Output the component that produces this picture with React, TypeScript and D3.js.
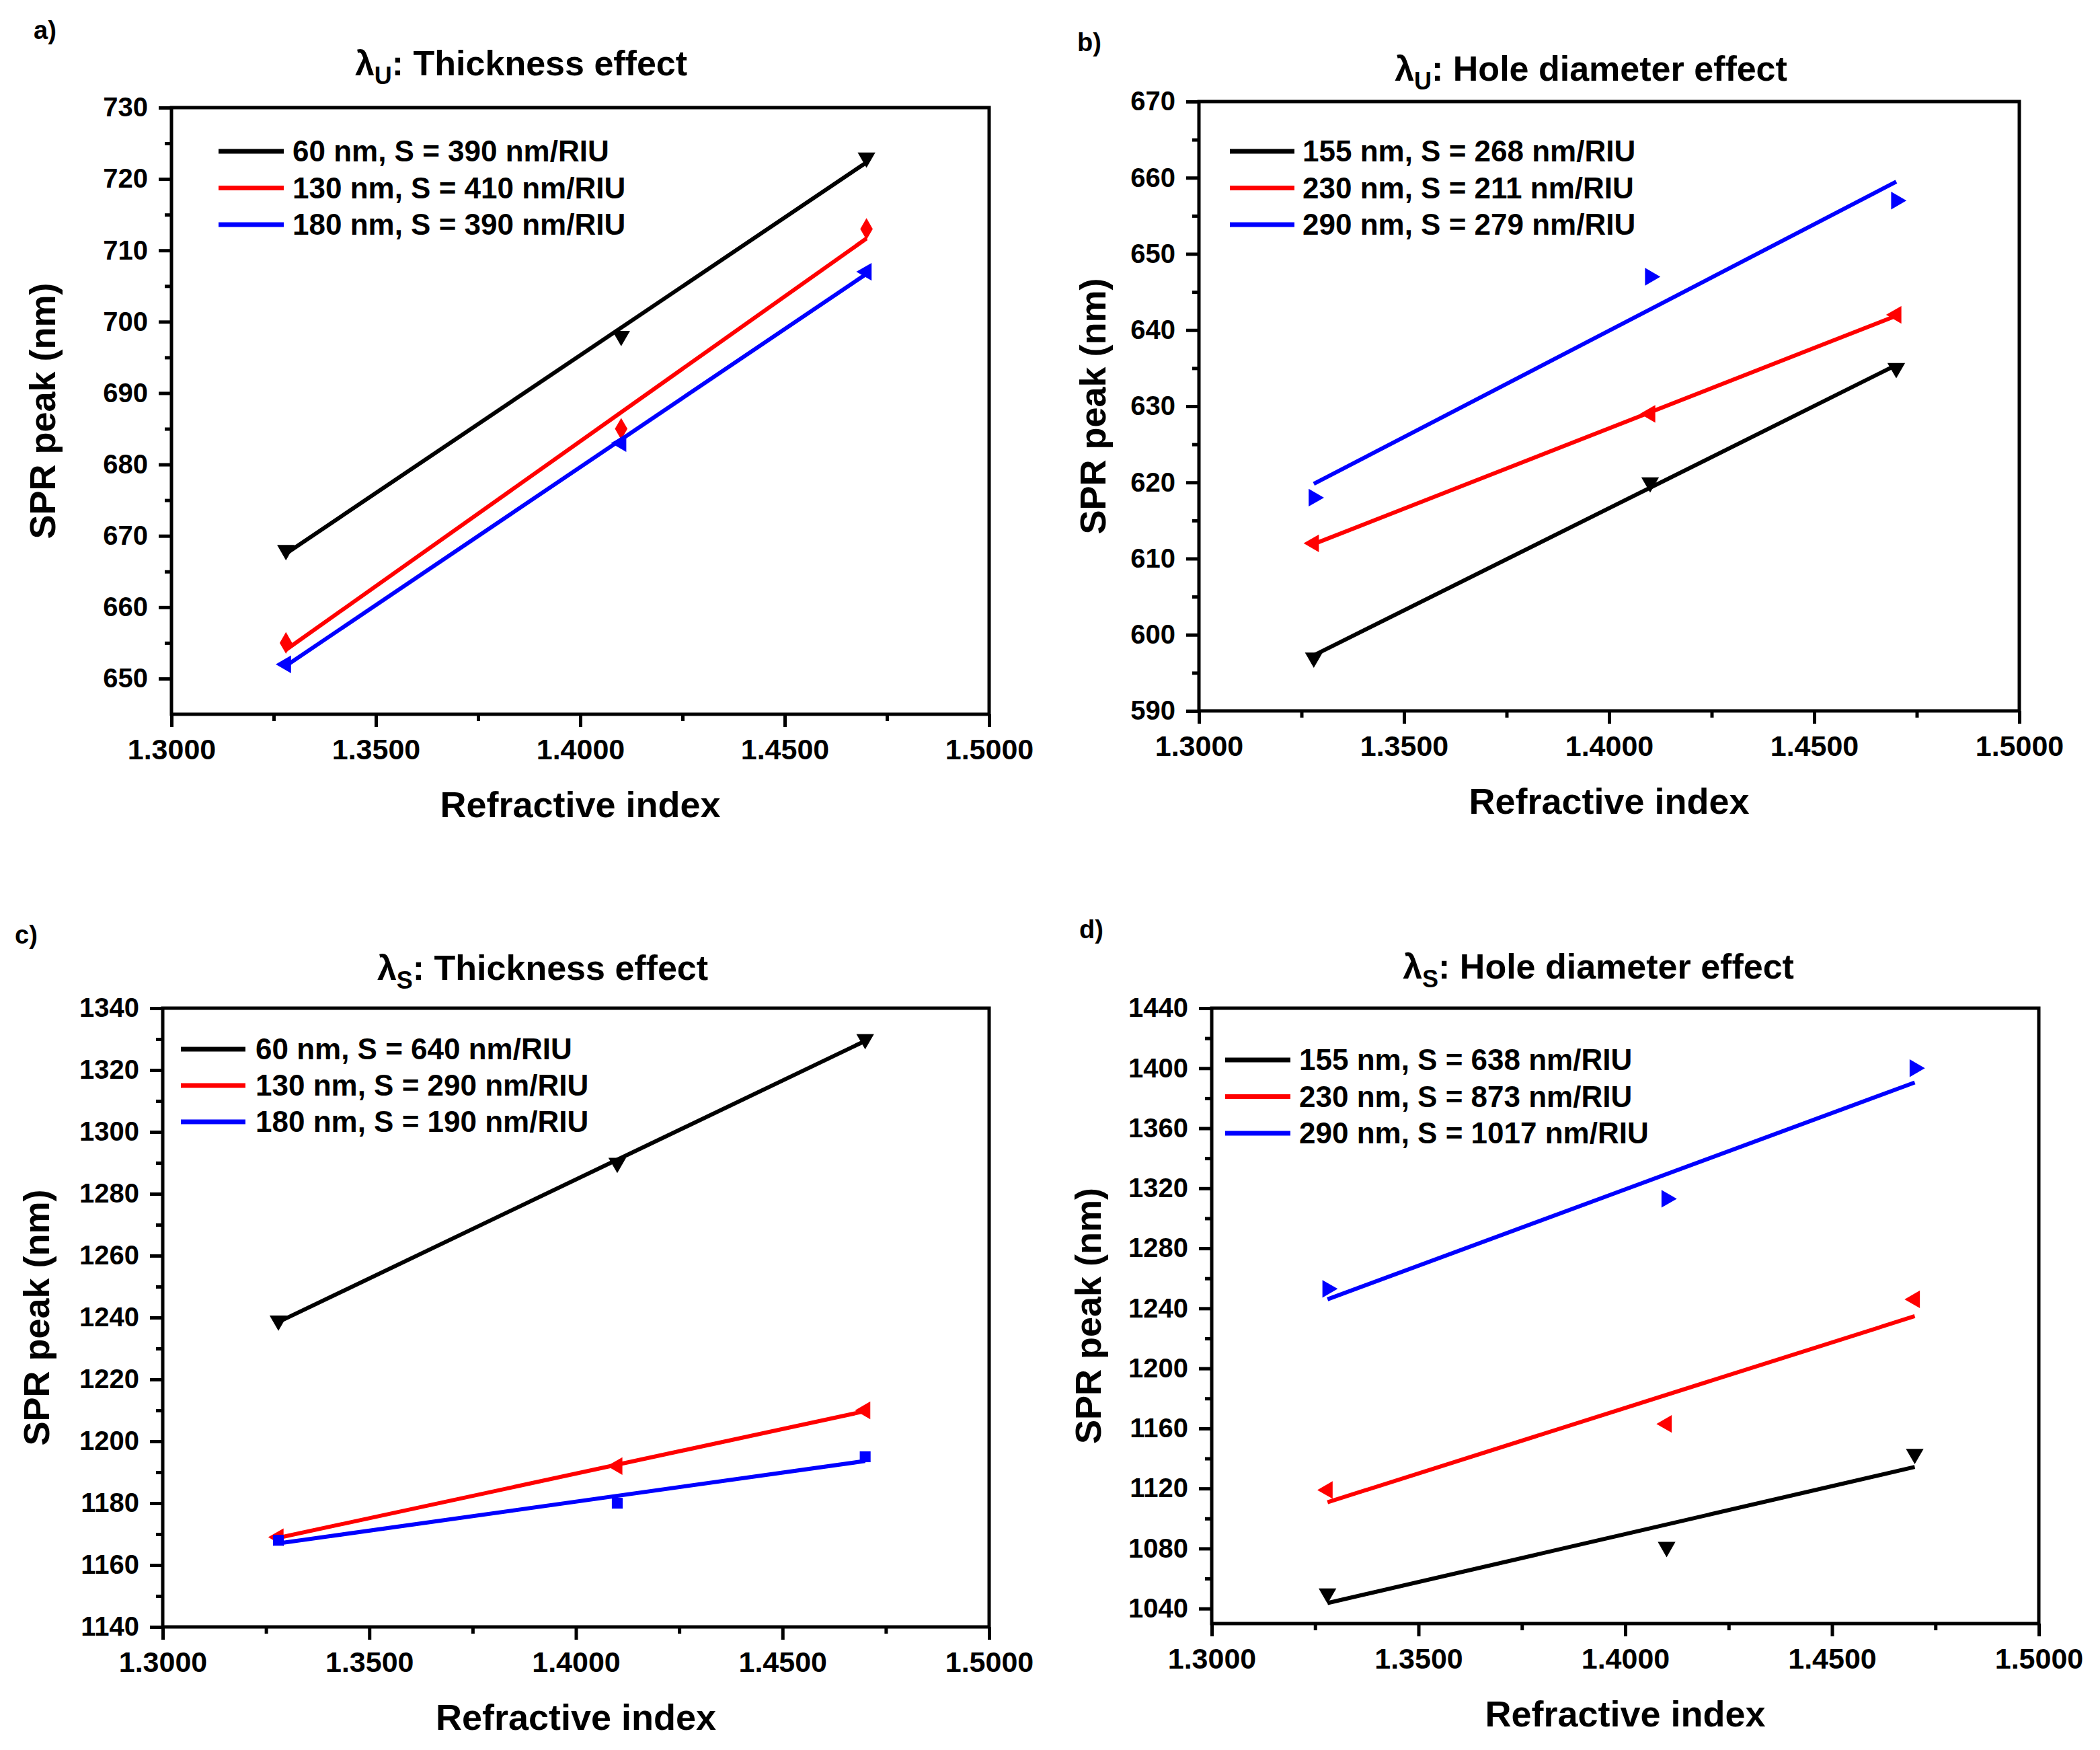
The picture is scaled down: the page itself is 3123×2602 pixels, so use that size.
import React, { useEffect, useRef } from "react";
import * as d3 from "d3";

// refractive index of the three media (x values, same in every panel)
const refractiveIndex = [1.328, 1.41, 1.47];
const xTickValues = [1.3, 1.35, 1.4, 1.45, 1.5];
const xMinorValues = [1.325, 1.375, 1.425, 1.475];

// a) lambda_U, thickness effect
const uThick60 = [668, 698, 723];
const uThick130 = [655, 685, 713];
const uThick180 = [652, 683, 707];
const legendUThick = ["60 nm, S = 390 nm/RIU", "130 nm, S = 410 nm/RIU", "180 nm, S = 390 nm/RIU"];
const yTicksA = [650, 660, 670, 680, 690, 700, 710, 720, 730];

// b) lambda_U, hole diameter effect
const uHole155 = [597, 620, 635];
const uHole230 = [612, 629, 642];
const uHole290 = [618, 647, 657];
const legendUHole = ["155 nm, S = 268 nm/RIU", "230 nm, S = 211 nm/RIU", "290 nm, S = 279 nm/RIU"];
const yTicksB = [590, 600, 610, 620, 630, 640, 650, 660, 670];

// c) lambda_S, thickness effect
const sThick60 = [1239, 1290, 1330];
const sThick130 = [1169, 1192, 1210];
const sThick180 = [1168, 1180, 1195];
const legendSThick = ["60 nm, S = 640 nm/RIU", "130 nm, S = 290 nm/RIU", "180 nm, S = 190 nm/RIU"];
const yTicksC = [1140, 1160, 1180, 1200, 1220, 1240, 1260, 1280, 1300, 1320, 1340];

// d) lambda_S, hole diameter effect
const sHole155 = [1050, 1081, 1143];
const sHole230 = [1119, 1163, 1246];
const sHole290 = [1253, 1313, 1400];
const legendSHole = ["155 nm, S = 638 nm/RIU", "230 nm, S = 873 nm/RIU", "290 nm, S = 1017 nm/RIU"];
const yTicksD = [1040, 1080, 1120, 1160, 1200, 1240, 1280, 1320, 1360, 1400, 1440];

const W = 3123;
const H = 2602;
const FONT = "'Liberation Sans', Arial, Helvetica, sans-serif";
const colors = ["#000000", "#ff0000", "#0000ff"];

const panels = [
    {
        letter: "a)", letterPos: [50, 58], sub: "U", title: ": Thickness effect", titlePos: [775, 112],
        box: { left: 255, right: 1471, top: 160, bottom: 1062 }, yDomain: [645, 730], yTicks: yTicksA,
        yTitleX: 63, legend: { x1: 325, x2: 422, tx: 435, y: 225, dy: 54.5 },
        series: [uThick60, uThick130, uThick180], labels: legendUThick, symbols: ["down", "diamond", "left"],
    },
    {
        letter: "b)", letterPos: [1602, 76], sub: "U", title: ": Hole diameter effect", titlePos: [2366, 120],
        box: { left: 1783, right: 3003, top: 151, bottom: 1057 }, yDomain: [590, 670], yTicks: yTicksB,
        yTitleX: 1625, legend: { x1: 1829, x2: 1925, tx: 1937, y: 225, dy: 54.5 },
        series: [uHole155, uHole230, uHole290], labels: legendUHole, symbols: ["down", "left", "right"],
    },
    {
        letter: "c)", letterPos: [22, 1403], sub: "S", title: ": Thickness effect", titlePos: [807, 1457],
        box: { left: 242, right: 1471, top: 1499, bottom: 2419 }, yDomain: [1140, 1340], yTicks: yTicksC,
        yTitleX: 54, legend: { x1: 269, x2: 365, tx: 380, y: 1560, dy: 54 },
        series: [sThick60, sThick130, sThick180], labels: legendSThick, symbols: ["down", "left", "square"],
    },
    {
        letter: "d)", letterPos: [1605, 1395], sub: "S", title: ": Hole diameter effect", titlePos: [2377, 1455],
        box: { left: 1802, right: 3032, top: 1499, bottom: 2414 }, yDomain: [1030, 1440], yTicks: yTicksD,
        yTitleX: 1618, legend: { x1: 1822, x2: 1919, tx: 1932, y: 1576, dy: 54.5 },
        series: [sHole155, sHole230, sHole290], labels: legendSHole, symbols: ["down", "left", "right"],
    },
];

const symbolPath = (kind: string) => {
    if (kind === "diamond") return { d: d3.symbol().type(d3.symbolDiamond).size(300)(), rot: 0 };
    if (kind === "square") return { d: d3.symbol().type(d3.symbolSquare).size(260)(), rot: 0 };
    const rot = kind === "down" ? 180 : kind === "left" ? -90 : kind === "right" ? 90 : 0;
    return { d: d3.symbol().type(d3.symbolTriangle).size(300)(), rot };
};

const drawPanel = (svg: any, p: any) => {
    const { left, right, top, bottom } = p.box;
    const x = d3.scaleLinear().domain([1.3, 1.5]).range([left, right]);
    const y = d3.scaleLinear().domain(p.yDomain).range([bottom, top]);
    const g = svg.append("g");

    // y minor ticks: halfway between majors
    const step = p.yTicks[1] - p.yTicks[0];
    const yMinor = p.yTicks.map((t: number) => t + step / 2).concat([p.yTicks[0] - step / 2])
        .filter((t: number) => t > p.yDomain[0] && t < p.yDomain[1]);

    const styleAxis = (sel: any) => {
        sel.select(".domain").remove();
        sel.selectAll("line").attr("stroke", "#000").attr("stroke-width", 5);
        sel.selectAll("text").attr("fill", "#000").attr("font-family", FONT).attr("font-weight", "bold").attr("font-size", 40);
    };

    g.append("g").attr("transform", `translate(0,${bottom})`)
        .call(d3.axisBottom(x).tickValues(xMinorValues).tickSize(10).tickFormat(() => ""))
        .call(styleAxis);
    g.append("g").attr("transform", `translate(0,${bottom})`)
        .call(d3.axisBottom(x).tickValues(xTickValues).tickSize(19).tickPadding(17).tickFormat(d3.format(".4f")))
        .call(styleAxis)
        .selectAll("text").attr("font-size", 43);
    g.append("g").attr("transform", `translate(${left},0)`)
        .call(d3.axisLeft(y).tickValues(yMinor).tickSize(10).tickFormat(() => ""))
        .call(styleAxis);
    g.append("g").attr("transform", `translate(${left},0)`)
        .call(d3.axisLeft(y).tickValues(p.yTicks).tickSize(19).tickPadding(16).tickFormat(d3.format("d")))
        .call(styleAxis);

    // frame
    g.append("rect").attr("x", left).attr("y", top).attr("width", right - left).attr("height", bottom - top)
        .attr("fill", "none").attr("stroke", "#000").attr("stroke-width", 5);

    // data: markers + least squares fit
    p.series.forEach((vals: number[], i: number) => {
        const sym = symbolPath(p.symbols[i]);
        vals.forEach((v, j) => {
            g.append("path").attr("d", sym.d)
                .attr("transform", `translate(${x(refractiveIndex[j])},${y(v)}) rotate(${sym.rot})`)
                .attr("fill", colors[i]);
        });
        const mx = d3.mean(refractiveIndex) as number;
        const my = d3.mean(vals) as number;
        const slope = d3.sum(refractiveIndex.map((xi, k) => (xi - mx) * (vals[k] - my))) /
            d3.sum(refractiveIndex.map((xi) => (xi - mx) ** 2));
        const ends = [refractiveIndex[0], refractiveIndex[refractiveIndex.length - 1]];
        g.append("path")
            .attr("d", d3.line()(ends.map((xi) => [x(xi), y(my + slope * (xi - mx))] as [number, number])))
            .attr("stroke", colors[i]).attr("stroke-width", 6).attr("fill", "none");
    });

    // legend
    p.labels.forEach((label: string, i: number) => {
        const ly = p.legend.y + i * p.legend.dy;
        g.append("line").attr("x1", p.legend.x1).attr("x2", p.legend.x2).attr("y1", ly).attr("y2", ly)
            .attr("stroke", colors[i]).attr("stroke-width", 7);
        g.append("text").attr("x", p.legend.tx).attr("y", ly).attr("dy", "0.35em")
            .attr("font-family", FONT).attr("font-weight", "bold").attr("font-size", 44).text(label);
    });

    // title with subscript
    const t = g.append("text").attr("x", p.titlePos[0]).attr("y", p.titlePos[1]).attr("text-anchor", "middle")
        .attr("font-family", FONT).attr("font-weight", "bold").attr("font-size", 52);
    t.append("tspan").text("λ");
    t.append("tspan").attr("dy", 13).attr("font-size", 36).text(p.sub);
    t.append("tspan").attr("dy", -13).text(p.title);

    // panel letter
    g.append("text").attr("x", p.letterPos[0]).attr("y", p.letterPos[1])
        .attr("font-family", FONT).attr("font-weight", "bold").attr("font-size", 38).text(p.letter);

    // axis titles
    g.append("text").attr("x", (left + right) / 2).attr("y", bottom + 153).attr("text-anchor", "middle")
        .attr("font-family", FONT).attr("font-weight", "bold").attr("font-size", 54).text("Refractive index");
    g.append("text").attr("transform", `translate(${p.yTitleX},${(top + bottom) / 2}) rotate(-90)`)
        .attr("text-anchor", "middle").attr("dy", "0.35em")
        .attr("font-family", FONT).attr("font-weight", "bold").attr("font-size", 54).text("SPR peak (nm)");
};

export default function App() {
    const ref = useRef<SVGSVGElement>(null);

    useEffect(() => {
        const svg = d3.select(ref.current);
        svg.selectAll("*").remove();
        svg.append("rect").attr("width", W).attr("height", H).attr("fill", "#fff");
        panels.forEach((p) => drawPanel(svg, p));
    }, []);

    return (
        <svg ref={ref} width={W} height={H} viewBox={`0 0 ${W} ${H}`}
            style={{ position: "absolute", left: 0, top: 0, display: "block" }} />
    );
}
